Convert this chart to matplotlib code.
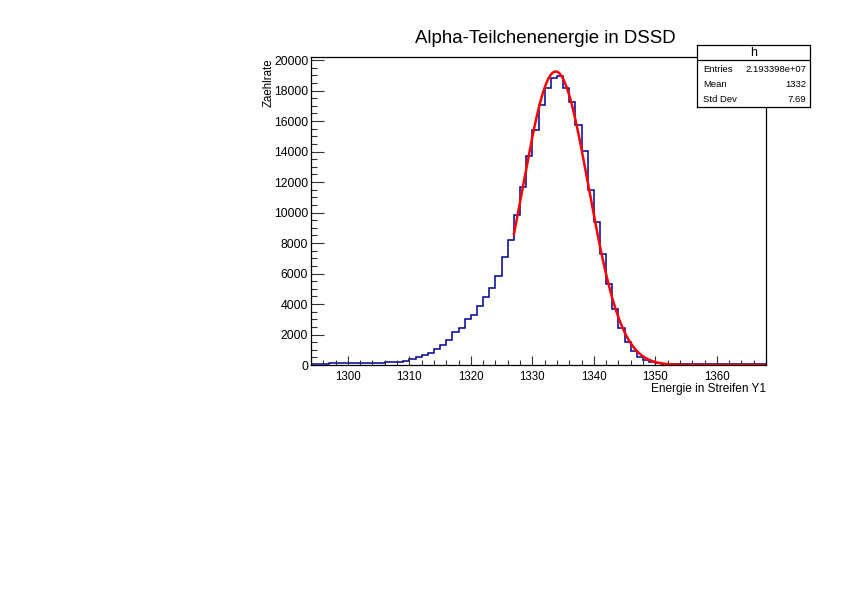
import numpy as np
import matplotlib.pyplot as plt
from matplotlib.ticker import MultipleLocator

plt.rcParams["font.family"] = ["Liberation Sans", "DejaVu Sans"]

# Histogram: 1 unit wide bins from 1294 to 1368
bin_lo = 1294
counts = [
    85, 90, 95, 100, 105, 110, 115, 120, 125, 135,          # 1294-1303
    145, 155, 170, 195, 225, 285, 415, 525, 660, 810,       # 1304-1313
    1050, 1315, 1645, 2150, 2410, 3000, 3310, 3840, 4450, 5020,   # 1314-1323
    5860, 7060, 8180, 9820, 11690, 13700, 15410, 17060, 18140, 18820,  # 1324-1333
    18970, 18140, 17220, 15770, 14030, 11510, 9390, 7300, 5310, 3660,  # 1334-1343
    2450, 1530, 940, 550, 330, 180, 110, 85, 70, 60,        # 1344-1353
    55, 55, 50, 50, 50, 45, 45, 45, 45, 40,                 # 1354-1363
    40, 40, 40, 40,                                         # 1364-1367
]
edges = np.arange(bin_lo, bin_lo + len(counts) + 1)

# Gaussian fit parameters
fit_amp = 19250
fit_mean = 1333.8
fit_sigma = 5.35
fit_range = (1327.0, 1368.0)

stats_name = "h"
stats_rows = [("Entries", "2.193398e+07"), ("Mean", "1332"), ("Std Dev", "7.69")]

fig = plt.figure(figsize=(8.42, 5.95), dpi=100)
W, H = 842, 595

# frame in pixel coords: left 311, right 766, top 57, bottom 365
ax = fig.add_axes([311 / W, 1 - 365 / H, (766 - 311) / W, (365 - 57) / H])

ax.stairs(counts, edges, baseline=None, color="#000099", lw=1.1)

xf = np.linspace(fit_range[0], fit_range[1], 400)
yf = fit_amp * np.exp(-0.5 * ((xf - fit_mean) / fit_sigma) ** 2)
ax.plot(xf, yf, color="#ff0000", lw=1.8)

ax.set_xlim(edges[0], edges[-1])
ax.set_ylim(0, 20200)

ax.xaxis.set_major_locator(MultipleLocator(10))
ax.xaxis.set_minor_locator(MultipleLocator(2))
ax.yaxis.set_major_locator(MultipleLocator(2000))
ax.yaxis.set_minor_locator(MultipleLocator(500))

ax.tick_params(axis="both", which="both", direction="in", top=False, right=False,
               width=0.8, color="#333333")
ax.tick_params(axis="x", which="major", length=6.5, pad=4, labelsize=8.3)
ax.tick_params(axis="x", which="minor", length=3.5)
ax.tick_params(axis="y", which="major", length=9.5, pad=2, labelsize=8.8)
ax.tick_params(axis="y", which="minor", length=4.5)

for sp in ax.spines.values():
    sp.set_linewidth(0.9)

# Title and axis labels
fig.text(545 / W, 1 - 38.5 / H, "Alpha-Teilchenenergie in DSSD", ha="center",
         va="center", fontsize=13.4)
fig.text(766 / W, 1 - 389 / H, "Energie in Streifen Y1", ha="right",
         va="center", fontsize=8.6)
fig.text(269 / W, 1 - 58 / H, "Zaehlrate", ha="center", va="top",
         rotation=90, fontsize=8.3)

# Statistics box
bx0, bx1, by0, by1 = 697, 810, 45, 107
sax = fig.add_axes([bx0 / W, 1 - by1 / H, (bx1 - bx0) / W, (by1 - by0) / H])
sax.set_xlim(bx0, bx1)
sax.set_ylim(by1, by0)
sax.set_xticks([])
sax.set_yticks([])
sax.set_facecolor("white")
for sp in sax.spines.values():
    sp.set_linewidth(0.9)
sax.axhline(60, color="black", lw=0.9)
sax.text((bx0 + bx1) / 2, 52.5, stats_name, ha="center", va="center", fontsize=9)
for i, (lab, val) in enumerate(stats_rows):
    yy = 69 + i * 15.5
    sax.text(bx0 + 6, yy, lab, ha="left", va="center", fontsize=6.8)
    sax.text(bx1 - 4, yy, val, ha="right", va="center", fontsize=6.8)

fig.savefig("out.png", dpi=100)
